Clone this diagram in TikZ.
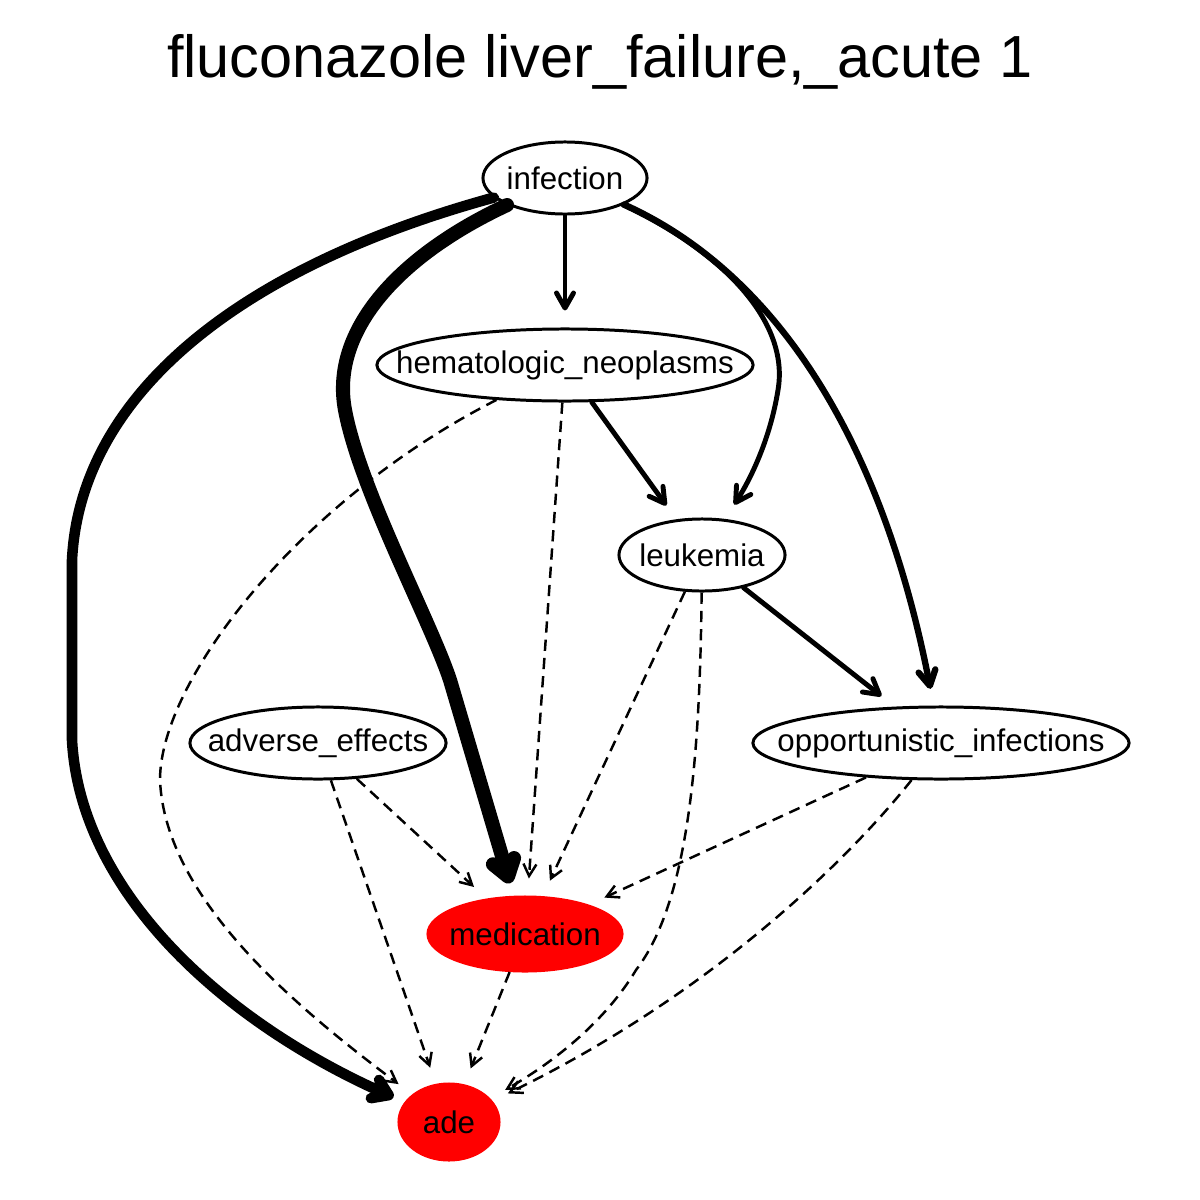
\documentclass[tikz,border=0pt]{standalone}
\usepackage{fontspec}
\setmainfont{Liberation Sans}
\usepackage{tikz}
\usetikzlibrary{arrows.meta,shapes.geometric}
\definecolor{adered}{HTML}{FF0000}
\newcommand{\vlabel}[1]{\makebox[0pt]{#1}}
\tikzset{
  var/.style={ellipse,draw,line width=0.85pt,inner sep=0pt,minimum height=0.72cm,
    font=\fontsize{8.9}{10}\selectfont},
  hit/.style={var,fill=adered,draw=adered},
  link/.style={line width=1.4pt,line cap=round,line join=round,
    -{Straight Barb[length=0.15cm,width=0.17cm,round]},shorten >=0.17cm},
  maybe/.style={line width=0.7pt,dash pattern=on 3.2pt off 2pt,
    -{Straight Barb[length=0.12cm,width=0.13cm]},shorten >=0.17cm},
}

\begin{document}
\begin{tikzpicture}[x=0.01cm,y=-0.01cm]
  \useasboundingbox (0,0) rectangle (1200,1200);
  \node (title) at (600,62) {\fontsize{16.9}{20}\selectfont fluconazole liver\_failure,\_acute 1};
  % variables
  \node[var,minimum width=1.64cm] (inf) at (565,178) {\vlabel{infection}};
  \node[var,minimum width=3.76cm] (hem) at (565,365) {\vlabel{hematologic\_neoplasms}};
  \node[var,minimum width=1.66cm] (leu) at (702,555) {\vlabel{leukemia}};
  \node[var,minimum width=2.56cm] (adv) at (318,743) {\vlabel{adverse\_effects}};
  \node[var,minimum width=3.76cm] (opp) at (941,743) {\vlabel{opportunistic\_infections}};
  \node[hit,minimum width=1.94cm,minimum height=0.74cm] (med) at (525,934) {\vlabel{medication}};
  \node[hit,minimum width=1.0cm,minimum height=0.76cm] (ade) at (449,1122) {\vlabel{ade}};
  % solid links
  \draw[link] (inf) -- (hem);
  \draw[link] (hem) -- (leu);
  \draw[link] (leu) -- (opp);
  \draw[link] (inf) .. controls (720,250) and (790,320) .. (778,390)
    .. controls (770,440) and (750,480) .. (leu);
  \draw[link,line width=1.8pt] (inf) .. controls (770,270) and (880,430) .. (opp);
  \draw[link,line width=4pt,-{Straight Barb[length=0.16cm,width=0.22cm,round]},shorten >=0.13cm]
    (inf) .. controls (400,255) and (330,330) .. (345,410)
    .. controls (360,490) and (430,620) .. (450,680) -- (med);
  \draw[link,line width=3pt,-{Straight Barb[length=0.15cm,width=0.2cm,round]},shorten >=0.12cm]
    (inf) .. controls (230,270) and (80,400) .. (72,560) -- (72,740)
    .. controls (80,890) and (220,1020) .. (ade);
  % dashed links
  \draw[maybe] (hem) -- (med);
  \draw[maybe] (leu) -- (med);
  \draw[maybe] (adv) -- (med);
  \draw[maybe] (opp) -- (med);
  \draw[maybe] (adv) -- (ade);
  \draw[maybe] (med) -- (ade);
  \draw[maybe] (hem) .. controls (300,500) and (160,680) .. (160,780)
    .. controls (165,900) and (300,1010) .. (ade);
  \draw[maybe] (leu) .. controls (700,750) and (690,900) .. (636,970)
    .. controls (600,1030) and (540,1070) .. (ade);
  \draw[maybe] (opp) .. controls (840,870) and (700,1000) .. (ade);
\end{tikzpicture}
\end{document}
